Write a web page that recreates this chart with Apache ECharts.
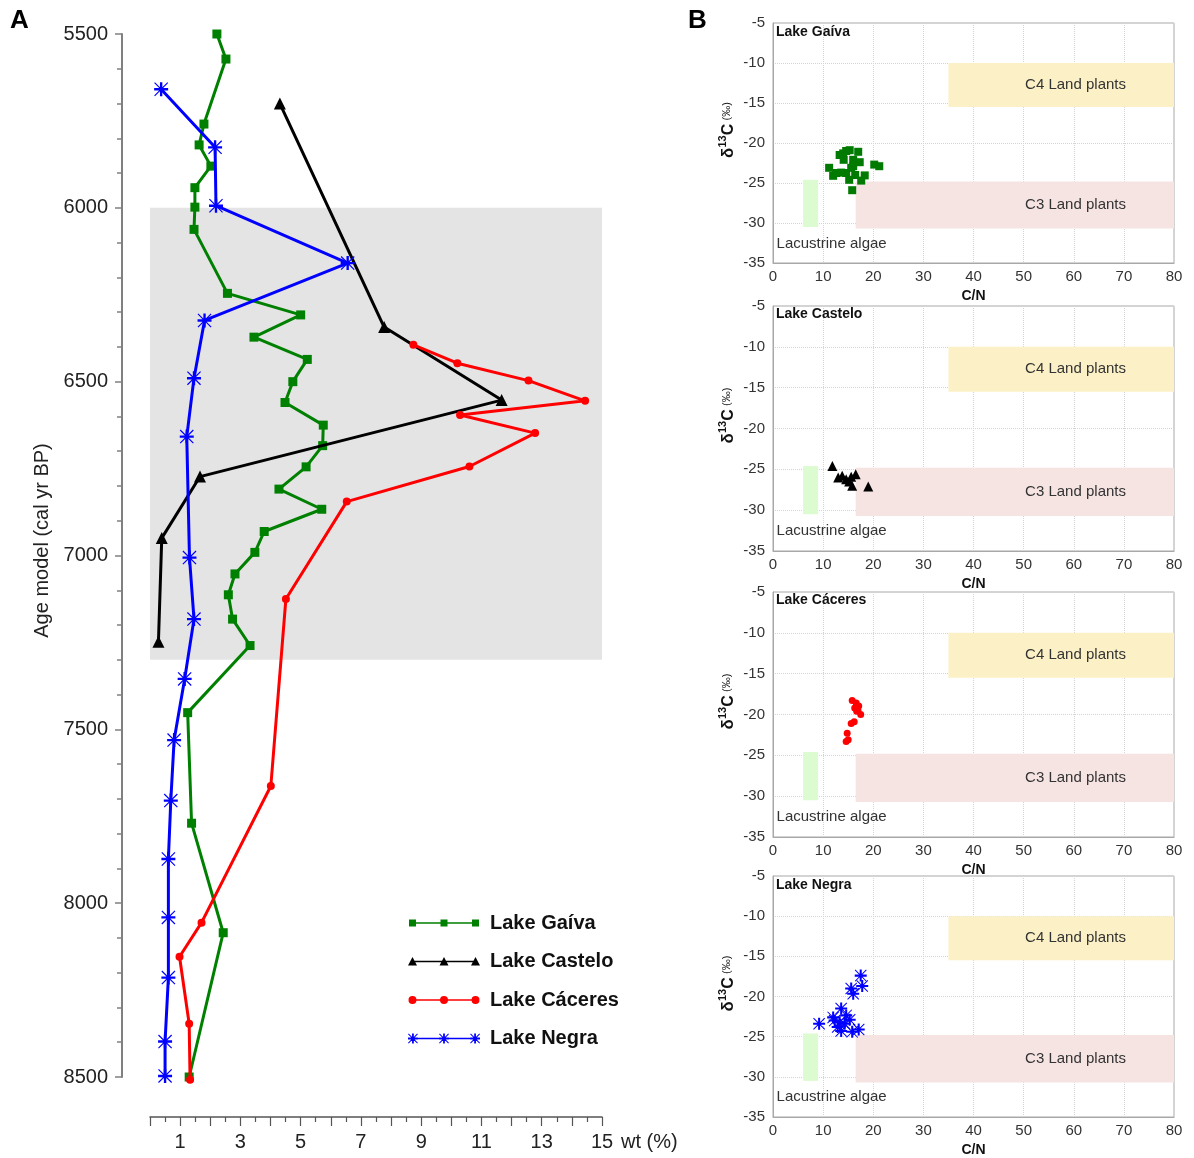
<!DOCTYPE html>
<html><head><meta charset="utf-8">
<script src="https://cdn.jsdelivr.net/npm/echarts@6/dist/echarts.min.js"></script>
<style>html,body{margin:0;padding:0;background:#fff}#c{width:1194px;height:1158px}</style>
</head><body><div id="c"></div><script>
// ---------- Panel A data: wt (%) vs age (cal yr BP) ----------
const gaivaAge = [5500,5572,5759,5819,5880,5942,5998,6062,6246,6308,6372,6436,6500,6560,6625,6684,6745,6809,6867,6931,6991,7053,7113,7183,7259,7452,7770,8085,8500];
const gaivaWt  = [2.22,2.52,1.79,1.63,2.02,1.49,1.49,1.46,2.57,5.0,3.45,5.22,4.74,4.48,5.75,5.73,5.18,4.28,5.70,3.79,3.48,2.82,2.60,2.74,3.32,1.25,1.38,2.43,1.30];
const casteloAge = [5700,6343,6553,6773,6950,7248];
const casteloWt  = [4.31,7.77,11.67,1.66,0.39,0.28];
const caceresAge = [6394,6447,6497,6555,6596,6648,6744,6845,7125,7663,8056,8154,8347,8508];
const caceresWt  = [8.74,10.2,12.56,14.44,10.29,12.78,10.60,6.53,4.51,4.01,1.71,0.98,1.30,1.33];
const negraAge = [5659,5826,5994,6159,6324,6490,6658,7006,7183,7355,7531,7705,7873,8041,8214,8398,8497];
const negraWt  = [0.37,2.16,2.19,6.56,1.81,1.46,1.22,1.31,1.46,1.15,0.80,0.69,0.61,0.61,0.61,0.50,0.50];
const shadedAges = [6000, 7300];

// ---------- Panel B data: d13C vs C/N ----------
const gaivaCN   = [11.2,12.0,13.3,14.0,14.6,15.3,14.1,16.0,17.0,17.3,16.0,14.6,13.6,15.2,17.6,18.3,16.4,15.8,20.2,21.2,12.6,15.6];
const gaivaD13C = [-23.1,-24.1,-21.5,-21.3,-21.0,-20.9,-22.1,-22.1,-21.1,-22.4,-22.9,-23.75,-23.7,-24.6,-24.7,-24.05,-24.0,-25.9,-22.7,-22.9,-23.75,-23.1];
const casteloCN   = [11.85,13.0,13.8,14.6,15.6,16.5,15.8,19.0,15.2];
const casteloD13C = [-24.6,-26.0,-25.8,-26.2,-25.9,-25.6,-27.0,-27.1,-26.5];
const caceresCN   = [15.8,16.6,17.1,16.3,16.95,17.5,15.6,16.2,14.8,15.0,14.6,16.7];
const caceresD13C = [-18.3,-18.6,-18.95,-19.2,-19.5,-20.0,-21.1,-20.9,-22.3,-23.1,-23.3,-19.6];
const negraCN   = [9.2,12.3,13.6,14.6,13.3,14.3,15.3,12.9,13.6,15.8,17.1,15.6,16.0,17.5,17.8,12.0];
const negraD13C = [-23.4,-23.0,-21.5,-22.35,-23.2,-23.4,-22.9,-23.8,-24.3,-24.4,-24.1,-19.0,-19.65,-17.4,-18.7,-22.6];

// source zones [C/N, d13C] corners
const c4Zone    = [[35,-10],[80,-15.5]];
const c3Zone    = [[16.5,-24.8],[80,-30.7]];
const algaeZone = [[6,-24.6],[9,-30.5]];

const lakeNames = ['Lake Gaíva','Lake Castelo','Lake Cáceres','Lake Negra'];
const zoneNames = ['C4 Land plants','C3 Land plants','Lacustrine algae'];

// ---------- styling ----------
const colors = ['#008000','#000000','#ff0000','#0000ff'];
const FONT = '"Liberation Sans", Arial, Helvetica, sans-serif';
const asterisk = 'path://M8.3,0H11.7V20H8.3Z M0,8.3H20V11.7H0Z M0,18.8L18.8,0L20,1.2L1.2,20Z M0,1.2L1.2,0L20,18.8L18.8,20Z';
const symbolsA = ['rect','triangle','circle',asterisk];
const sizesA = [9,12,8,14];
const sizesB = [8,10,7,12];

function iconWith(markerFn){
  let p = 'path://M0,0L0,0 M72,14L72,14 M4,6.3h64v1.4h-64z';
  [4.5,36,67.5].forEach(cx => { p += ' ' + markerFn(cx); });
  return p;
}
const f = v => +v.toFixed(2);
const legendIcons = [
  iconWith(cx => `M${f(cx-3.5)},3.5h7v7h-7z`),
  iconWith(cx => `M${f(cx)},2.5L${f(cx+4.5)},11H${f(cx-4.5)}Z`),
  iconWith(cx => `M${f(cx-4)},7a4,4 0 1,1 8,0a4,4 0 1,1 -8,0Z`),
  iconWith(cx => `M${f(cx-0.9)},2H${f(cx+0.9)}V12H${f(cx-0.9)}Z M${f(cx-5)},6.1H${f(cx+5)}V7.9H${f(cx-5)}Z M${f(cx-5)},11.3L${f(cx+4.3)},2L${f(cx+5)},2.7L${f(cx-4.3)},12Z M${f(cx-5)},2.7L${f(cx-4.3)},2L${f(cx+5)},11.3L${f(cx+4.3)},12Z`)
];

const ageSets = [gaivaAge, casteloAge, caceresAge, negraAge];
const wtSets = [gaivaWt, casteloWt, caceresWt, negraWt];
const cnSets = [gaivaCN, casteloCN, caceresCN, negraCN];
const dSets = [gaivaD13C, casteloD13C, caceresD13C, negraD13C];

const gridsB = [
  {top:23, height:240},
  {top:306, height:245},
  {top:592, height:245},
  {top:876, height:241}
];

const grid = [{left:150, width:452, top:34, height:1043}];
gridsB.forEach(g => grid.push({left:773, width:401, top:g.top, height:g.height, show:true, borderColor:'#a8a8a8', borderWidth:1, backgroundColor:'transparent'}));

const xAxis = [{
  gridIndex:0, type:'value', min:0, max:15, interval:1, position:'bottom', offset:40,
  axisLine:{show:true, onZero:false, lineStyle:{color:'#555', width:1.5}},
  axisTick:{show:true, length:9, lineStyle:{color:'#555', width:1.2}},
  minorTick:{show:true, splitNumber:2, length:5, lineStyle:{color:'#555', width:1.2}},
  axisLabel:{fontSize:20, color:'#222', margin:15, formatter: v => (v % 2 === 1 ? String(v) : '')},
  splitLine:{show:false},
  name:'wt (%)', nameLocation:'end', nameGap:19,
  nameTextStyle:{fontSize:20, color:'#222', verticalAlign:'top', padding:[15,0,0,0]}
}];
const yAxis = [{
  gridIndex:0, type:'value', inverse:true, min:5500, max:8500, interval:500, offset:28,
  axisLine:{show:true, onZero:false, lineStyle:{color:'#808080', width:2}},
  axisTick:{show:true, length:7, lineStyle:{color:'#808080', width:1.5}},
  minorTick:{show:true, splitNumber:5, length:5, lineStyle:{color:'#808080', width:1.5}},
  axisLabel:{fontSize:20, color:'#222', margin:14, formatter: v => String(v)},
  splitLine:{show:false},
  name:'Age model (cal yr BP)', nameLocation:'middle', nameGap:70,
  nameTextStyle:{fontSize:20, color:'#222', padding:[0,0,0,30]}
}];
gridsB.forEach((g,i) => {
  xAxis.push({
    gridIndex:i+1, type:'value', min:0, max:80, interval:10,
    axisLine:{show:true, onZero:false, lineStyle:{color:'#a8a8a8', width:1}},
    axisTick:{show:false},
    axisLabel:{fontSize:15, color:'#333', margin:6},
    splitLine:{show:true, lineStyle:{type:'dotted', color:'#d4d4d4'}},
    name:'C/N', nameLocation:'middle', nameGap:26,
    nameTextStyle:{fontSize:14, fontWeight:'bold', color:'#111'}
  });
  yAxis.push({
    gridIndex:i+1, type:'value', min:-35, max:-5, interval:5,
    axisLine:{show:true, onZero:false, lineStyle:{color:'#a8a8a8', width:1}},
    axisTick:{show:false},
    axisLabel:{fontSize:15, color:'#333', margin:8},
    splitLine:{show:true, lineStyle:{type:'dotted', color:'#d4d4d4'}},
    name:'{d|δ}{s|13}{c|C} {p|(‰)}', nameLocation:'middle', nameGap:36,
    nameTextStyle:{
      padding:[0,0,0,26],
      rich:{
        d:{fontSize:17, fontWeight:'bold', color:'#111', verticalAlign:'bottom', lineHeight:20},
        s:{fontSize:11, fontWeight:'bold', color:'#111', verticalAlign:'top'},
        c:{fontSize:16, fontWeight:'bold', color:'#111', verticalAlign:'bottom', lineHeight:20},
        p:{fontSize:11, color:'#111', verticalAlign:'middle'}
      }
    }
  });
});

const series = [];
// Panel A lines
lakeNames.forEach((name,i) => {
  const s = {
    name, type:'line', xAxisIndex:0, yAxisIndex:0, clip:false,
    data: ageSets[i].map((a,k) => [wtSets[i][k], a]),
    symbol: symbolsA[i], symbolSize: sizesA[i], showAllSymbol:true,
    lineStyle:{color:colors[i], width:3},
    itemStyle:{color:colors[i], borderWidth:0},
    z: 3 + i
  };
  if (i === 0) {
    s.markArea = {silent:true, itemStyle:{color:'#e4e4e4'},
      data:[[{yAxis:shadedAges[0]},{yAxis:shadedAges[1]}]]};
  }
  series.push(s);
});
// Panel B scatters with source zones
const zoneLabel = {fontSize:15, color:'#333', fontFamily:FONT};
lakeNames.forEach((name,i) => {
  series.push({
    name: name + ' C/N', type:'scatter', xAxisIndex:i+1, yAxisIndex:i+1,
    data: cnSets[i].map((c,k) => [c, dSets[i][k]]),
    symbol: symbolsA[i], symbolSize: sizesB[i],
    itemStyle:{color: i === 0 ? '#007a00' : colors[i], opacity:1},
    z: 5,
    markArea:{
      silent:true,
      data:[
        [{name:zoneNames[0], xAxis:c4Zone[0][0], yAxis:c4Zone[0][1], itemStyle:{color:'#fcf1c6'},
          label:Object.assign({show:true, position:'insideRight', distance:48}, zoneLabel)},
         {xAxis:c4Zone[1][0], yAxis:c4Zone[1][1]}],
        [{name:zoneNames[1], xAxis:c3Zone[0][0], yAxis:c3Zone[0][1], itemStyle:{color:'#f6e4e3'},
          label:Object.assign({show:true, position:'insideRight', distance:48}, zoneLabel)},
         {xAxis:c3Zone[1][0], yAxis:c3Zone[1][1]}],
        [{name:zoneNames[2], xAxis:algaeZone[0][0], yAxis:algaeZone[0][1], itemStyle:{color:'#dcfbd0'},
          label:Object.assign({show:true, position:'bottom', distance:9, align:'left', offset:[-34,0]}, zoneLabel)},
         {xAxis:algaeZone[1][0], yAxis:algaeZone[1][1]}]
      ]
    }
  });
});

const titles = [
  {text:'A', left:10, top:8, padding:0, textStyle:{fontSize:26, fontWeight:'bold', color:'#000', fontFamily:FONT}},
  {text:'B', left:688, top:8, padding:0, textStyle:{fontSize:26, fontWeight:'bold', color:'#000', fontFamily:FONT}}
];
const titleTops = [25, 307, 593, 878];
lakeNames.forEach((n,i) => titles.push({text:n, left:776, top:titleTops[i], padding:0,
  textStyle:{fontSize:14, fontWeight:'bold', color:'#111', fontFamily:FONT}}));

const option = {
  animation:false,
  backgroundColor:'#ffffff',
  textStyle:{fontFamily:FONT},
  title: titles,
  grid, xAxis, yAxis, series,
  legend:{
    orient:'vertical', left:408, top:913, padding:0, itemWidth:72, itemHeight:14, itemGap:18.5,
    itemStyle:{borderWidth:0},
    textStyle:{fontSize:20, fontWeight:'bold', color:'#111', padding:[0,0,0,5]},
    data: lakeNames.map((n,i) => ({name:n, icon:legendIcons[i]}))
  }
};
const chart = echarts.init(document.getElementById('c'), null, {renderer:'canvas'});
chart.setOption(option);
</script></body></html>
